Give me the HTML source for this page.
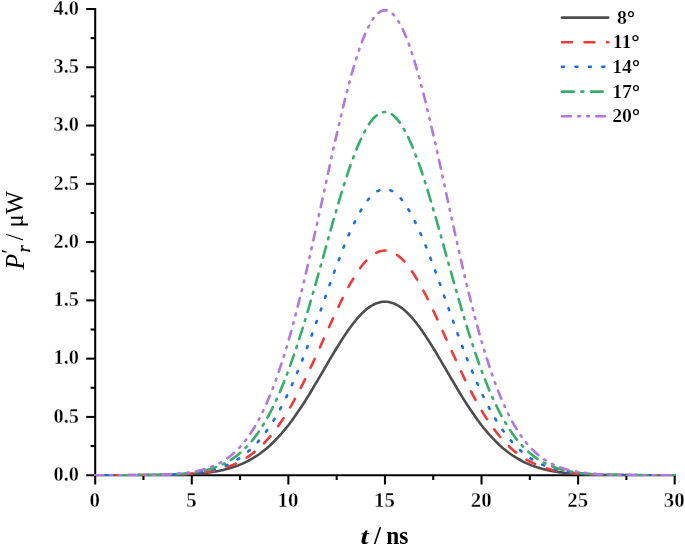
<!DOCTYPE html>
<html><head><meta charset="utf-8"><title>chart</title>
<style>html,body{margin:0;padding:0;background:#fff}svg{display:block}text{font-family:"Liberation Serif",serif;fill:#000}</style></head><body>
<svg width="685" height="545" viewBox="0 0 685 545">
<rect width="685" height="545" fill="#fff"/>
<g stroke="#000" stroke-width="2.05" fill="none">
<path d="M95.20 7.97 V484.50"/>
<path d="M86.20 475.20 H675.73"/>
<path d="M90.60 446.06 H95.20"/>
<path d="M86.20 416.93 H95.20"/>
<path d="M90.60 387.79 H95.20"/>
<path d="M86.20 358.65 H95.20"/>
<path d="M90.60 329.51 H95.20"/>
<path d="M86.20 300.38 H95.20"/>
<path d="M90.60 271.24 H95.20"/>
<path d="M86.20 242.10 H95.20"/>
<path d="M90.60 212.96 H95.20"/>
<path d="M86.20 183.82 H95.20"/>
<path d="M90.60 154.69 H95.20"/>
<path d="M86.20 125.55 H95.20"/>
<path d="M90.60 96.41 H95.20"/>
<path d="M86.20 67.27 H95.20"/>
<path d="M90.60 38.14 H95.20"/>
<path d="M86.20 9.00 H95.20"/>
<path d="M143.49 475.20 V480.00"/>
<path d="M191.78 475.20 V484.50"/>
<path d="M240.07 475.20 V480.00"/>
<path d="M288.37 475.20 V484.50"/>
<path d="M336.66 475.20 V480.00"/>
<path d="M384.95 475.20 V484.50"/>
<path d="M433.24 475.20 V480.00"/>
<path d="M481.53 475.20 V484.50"/>
<path d="M529.83 475.20 V480.00"/>
<path d="M578.12 475.20 V484.50"/>
<path d="M626.41 475.20 V480.00"/>
<path d="M674.70 475.20 V484.50"/>
</g>
<clipPath id="cp"><rect x="90" y="0" width="590" height="476.05"/></clipPath><g clip-path="url(#cp)">
<polyline points="95.2,475.2 97.6,475.2 100.0,475.2 102.4,475.2 104.9,475.2 107.3,475.2 109.7,475.2 112.1,475.2 114.5,475.2 116.9,475.2 119.3,475.2 121.8,475.2 124.2,475.2 126.6,475.2 129.0,475.2 131.4,475.2 133.8,475.2 136.2,475.2 138.7,475.1 141.1,475.1 143.5,475.1 145.9,475.1 148.3,475.1 150.7,475.1 153.2,475.1 155.6,475.0 158.0,475.0 160.4,475.0 162.8,475.0 165.2,474.9 167.6,474.9 170.1,474.8 172.5,474.8 174.9,474.7 177.3,474.6 179.7,474.6 182.1,474.5 184.5,474.4 187.0,474.3 189.4,474.1 191.8,474.0 194.2,473.8 196.6,473.7 199.0,473.5 201.4,473.3 203.9,473.0 206.3,472.7 208.7,472.4 211.1,472.1 213.5,471.8 215.9,471.4 218.3,470.9 220.8,470.4 223.2,469.9 225.6,469.3 228.0,468.7 230.4,468.0 232.8,467.3 235.2,466.5 237.7,465.6 240.1,464.6 242.5,463.6 244.9,462.5 247.3,461.3 249.7,460.0 252.1,458.7 254.6,457.2 257.0,455.7 259.4,454.0 261.8,452.2 264.2,450.3 266.6,448.4 269.1,446.3 271.5,444.0 273.9,441.7 276.3,439.2 278.7,436.7 281.1,434.0 283.5,431.2 286.0,428.2 288.4,425.2 290.8,422.0 293.2,418.7 295.6,415.3 298.0,411.8 300.4,408.2 302.9,404.5 305.3,400.8 307.7,396.9 310.1,393.0 312.5,389.0 314.9,384.9 317.3,380.9 319.8,376.7 322.2,372.6 324.6,368.4 327.0,364.3 329.4,360.2 331.8,356.1 334.2,352.0 336.7,348.0 339.1,344.1 341.5,340.3 343.9,336.6 346.3,333.0 348.7,329.5 351.1,326.2 353.6,323.0 356.0,320.0 358.4,317.2 360.8,314.6 363.2,312.2 365.6,310.1 368.0,308.1 370.5,306.4 372.9,305.0 375.3,303.8 377.7,302.9 380.1,302.2 382.5,301.8 384.9,301.7 387.4,301.8 389.8,302.2 392.2,302.9 394.6,303.8 397.0,305.0 399.4,306.4 401.9,308.1 404.3,310.1 406.7,312.2 409.1,314.6 411.5,317.2 413.9,320.0 416.3,323.0 418.8,326.2 421.2,329.5 423.6,333.0 426.0,336.6 428.4,340.3 430.8,344.1 433.2,348.0 435.7,352.0 438.1,356.1 440.5,360.2 442.9,364.3 445.3,368.4 447.7,372.6 450.1,376.7 452.6,380.9 455.0,384.9 457.4,389.0 459.8,393.0 462.2,396.9 464.6,400.8 467.0,404.5 469.5,408.2 471.9,411.8 474.3,415.3 476.7,418.7 479.1,422.0 481.5,425.2 483.9,428.2 486.4,431.2 488.8,434.0 491.2,436.7 493.6,439.2 496.0,441.7 498.4,444.0 500.8,446.3 503.3,448.4 505.7,450.3 508.1,452.2 510.5,454.0 512.9,455.7 515.3,457.2 517.8,458.7 520.2,460.0 522.6,461.3 525.0,462.5 527.4,463.6 529.8,464.6 532.2,465.6 534.7,466.5 537.1,467.3 539.5,468.0 541.9,468.7 544.3,469.3 546.7,469.9 549.1,470.4 551.6,470.9 554.0,471.4 556.4,471.8 558.8,472.1 561.2,472.4 563.6,472.7 566.0,473.0 568.5,473.3 570.9,473.5 573.3,473.7 575.7,473.8 578.1,474.0 580.5,474.1 582.9,474.3 585.4,474.4 587.8,474.5 590.2,474.6 592.6,474.6 595.0,474.7 597.4,474.8 599.8,474.8 602.3,474.9 604.7,474.9 607.1,475.0 609.5,475.0 611.9,475.0 614.3,475.0 616.8,475.1 619.2,475.1 621.6,475.1 624.0,475.1 626.4,475.1 628.8,475.1 631.2,475.1 633.7,475.2 636.1,475.2 638.5,475.2 640.9,475.2 643.3,475.2 645.7,475.2 648.1,475.2 650.6,475.2 653.0,475.2 655.4,475.2 657.8,475.2 660.2,475.2 662.6,475.2 665.0,475.2 667.5,475.2 669.9,475.2 672.3,475.2 674.7,475.2" fill="none" stroke="#4d4d4d" stroke-width="2.6" stroke-linecap="round" stroke-linejoin="round"/>
<polyline points="95.2,475.2 97.6,475.2 100.0,475.2 102.4,475.2 104.9,475.2 107.3,475.2 109.7,475.2 112.1,475.2 114.5,475.2 116.9,475.2 119.3,475.2 121.8,475.2 124.2,475.2 126.6,475.2 129.0,475.2 131.4,475.2 133.8,475.1 136.2,475.1 138.7,475.1 141.1,475.1 143.5,475.1 145.9,475.1 148.3,475.1 150.7,475.1 153.2,475.0 155.6,475.0 158.0,475.0 160.4,474.9 162.8,474.9 165.2,474.8 167.6,474.8 170.1,474.7 172.5,474.7 174.9,474.6 177.3,474.5 179.7,474.4 182.1,474.3 184.5,474.1 187.0,474.0 189.4,473.8 191.8,473.6 194.2,473.4 196.6,473.2 199.0,473.0 201.4,472.7 203.9,472.4 206.3,472.0 208.7,471.6 211.1,471.2 213.5,470.7 215.9,470.2 218.3,469.7 220.8,469.0 223.2,468.3 225.6,467.6 228.0,466.8 230.4,465.9 232.8,464.9 235.2,463.9 237.7,462.7 240.1,461.5 242.5,460.2 244.9,458.8 247.3,457.2 249.7,455.6 252.1,453.8 254.6,451.9 257.0,449.9 259.4,447.7 261.8,445.4 264.2,443.0 266.6,440.4 269.1,437.7 271.5,434.8 273.9,431.8 276.3,428.6 278.7,425.3 281.1,421.8 283.5,418.2 286.0,414.4 288.4,410.4 290.8,406.3 293.2,402.1 295.6,397.7 298.0,393.1 300.4,388.5 302.9,383.7 305.3,378.8 307.7,373.8 310.1,368.7 312.5,363.6 314.9,358.3 317.3,353.0 319.8,347.7 322.2,342.3 324.6,337.0 327.0,331.6 329.4,326.3 331.8,321.0 334.2,315.7 336.7,310.5 339.1,305.5 341.5,300.5 343.9,295.7 346.3,291.0 348.7,286.5 351.1,282.2 353.6,278.2 356.0,274.3 358.4,270.7 360.8,267.3 363.2,264.2 365.6,261.4 368.0,258.9 370.5,256.7 372.9,254.8 375.3,253.3 377.7,252.1 380.1,251.2 382.5,250.7 384.9,250.5 387.4,250.7 389.8,251.2 392.2,252.1 394.6,253.3 397.0,254.8 399.4,256.7 401.9,258.9 404.3,261.4 406.7,264.2 409.1,267.3 411.5,270.7 413.9,274.3 416.3,278.2 418.8,282.2 421.2,286.5 423.6,291.0 426.0,295.7 428.4,300.5 430.8,305.5 433.2,310.5 435.7,315.7 438.1,321.0 440.5,326.3 442.9,331.6 445.3,337.0 447.7,342.3 450.1,347.7 452.6,353.0 455.0,358.3 457.4,363.6 459.8,368.7 462.2,373.8 464.6,378.8 467.0,383.7 469.5,388.5 471.9,393.1 474.3,397.7 476.7,402.1 479.1,406.3 481.5,410.4 483.9,414.4 486.4,418.2 488.8,421.8 491.2,425.3 493.6,428.6 496.0,431.8 498.4,434.8 500.8,437.7 503.3,440.4 505.7,443.0 508.1,445.4 510.5,447.7 512.9,449.9 515.3,451.9 517.8,453.8 520.2,455.6 522.6,457.2 525.0,458.8 527.4,460.2 529.8,461.5 532.2,462.7 534.7,463.9 537.1,464.9 539.5,465.9 541.9,466.8 544.3,467.6 546.7,468.3 549.1,469.0 551.6,469.7 554.0,470.2 556.4,470.7 558.8,471.2 561.2,471.6 563.6,472.0 566.0,472.4 568.5,472.7 570.9,473.0 573.3,473.2 575.7,473.4 578.1,473.6 580.5,473.8 582.9,474.0 585.4,474.1 587.8,474.3 590.2,474.4 592.6,474.5 595.0,474.6 597.4,474.7 599.8,474.7 602.3,474.8 604.7,474.8 607.1,474.9 609.5,474.9 611.9,475.0 614.3,475.0 616.8,475.0 619.2,475.1 621.6,475.1 624.0,475.1 626.4,475.1 628.8,475.1 631.2,475.1 633.7,475.1 636.1,475.1 638.5,475.2 640.9,475.2 643.3,475.2 645.7,475.2 648.1,475.2 650.6,475.2 653.0,475.2 655.4,475.2 657.8,475.2 660.2,475.2 662.6,475.2 665.0,475.2 667.5,475.2 669.9,475.2 672.3,475.2 674.7,475.2" fill="none" stroke="#ee3a3a" stroke-width="2.6" stroke-linecap="round" stroke-linejoin="round" stroke-dasharray="9.7 12.6" stroke-dashoffset="1.5"/>
<polyline points="95.2,475.2 97.6,475.2 100.0,475.2 102.4,475.2 104.9,475.2 107.3,475.2 109.7,475.2 112.1,475.2 114.5,475.2 116.9,475.2 119.3,475.2 121.8,475.2 124.2,475.2 126.6,475.2 129.0,475.2 131.4,475.1 133.8,475.1 136.2,475.1 138.7,475.1 141.1,475.1 143.5,475.1 145.9,475.1 148.3,475.0 150.7,475.0 153.2,475.0 155.6,474.9 158.0,474.9 160.4,474.9 162.8,474.8 165.2,474.7 167.6,474.7 170.1,474.6 172.5,474.5 174.9,474.4 177.3,474.3 179.7,474.2 182.1,474.0 184.5,473.8 187.0,473.7 189.4,473.5 191.8,473.2 194.2,473.0 196.6,472.7 199.0,472.3 201.4,472.0 203.9,471.6 206.3,471.1 208.7,470.7 211.1,470.1 213.5,469.5 215.9,468.9 218.3,468.1 220.8,467.3 223.2,466.5 225.6,465.5 228.0,464.5 230.4,463.3 232.8,462.1 235.2,460.8 237.7,459.3 240.1,457.8 242.5,456.1 244.9,454.3 247.3,452.3 249.7,450.2 252.1,448.0 254.6,445.5 257.0,443.0 259.4,440.2 261.8,437.3 264.2,434.2 266.6,430.9 269.1,427.5 271.5,423.8 273.9,420.0 276.3,415.9 278.7,411.7 281.1,407.2 283.5,402.6 286.0,397.7 288.4,392.7 290.8,387.5 293.2,382.1 295.6,376.5 298.0,370.7 300.4,364.8 302.9,358.7 305.3,352.5 307.7,346.1 310.1,339.6 312.5,333.1 314.9,326.4 317.3,319.6 319.8,312.9 322.2,306.0 324.6,299.2 327.0,292.3 329.4,285.5 331.8,278.8 334.2,272.1 336.7,265.5 339.1,259.1 341.5,252.8 343.9,246.6 346.3,240.7 348.7,235.0 351.1,229.5 353.6,224.3 356.0,219.4 358.4,214.8 360.8,210.5 363.2,206.5 365.6,203.0 368.0,199.8 370.5,197.0 372.9,194.6 375.3,192.6 377.7,191.1 380.1,190.0 382.5,189.3 384.9,189.1 387.4,189.3 389.8,190.0 392.2,191.1 394.6,192.6 397.0,194.6 399.4,197.0 401.9,199.8 404.3,203.0 406.7,206.5 409.1,210.5 411.5,214.8 413.9,219.4 416.3,224.3 418.8,229.5 421.2,235.0 423.6,240.7 426.0,246.6 428.4,252.8 430.8,259.1 433.2,265.5 435.7,272.1 438.1,278.8 440.5,285.5 442.9,292.3 445.3,299.2 447.7,306.0 450.1,312.9 452.6,319.6 455.0,326.4 457.4,333.1 459.8,339.6 462.2,346.1 464.6,352.5 467.0,358.7 469.5,364.8 471.9,370.7 474.3,376.5 476.7,382.1 479.1,387.5 481.5,392.7 483.9,397.7 486.4,402.6 488.8,407.2 491.2,411.7 493.6,415.9 496.0,420.0 498.4,423.8 500.8,427.5 503.3,430.9 505.7,434.2 508.1,437.3 510.5,440.2 512.9,443.0 515.3,445.5 517.8,448.0 520.2,450.2 522.6,452.3 525.0,454.3 527.4,456.1 529.8,457.8 532.2,459.3 534.7,460.8 537.1,462.1 539.5,463.3 541.9,464.5 544.3,465.5 546.7,466.5 549.1,467.3 551.6,468.1 554.0,468.9 556.4,469.5 558.8,470.1 561.2,470.7 563.6,471.1 566.0,471.6 568.5,472.0 570.9,472.3 573.3,472.7 575.7,473.0 578.1,473.2 580.5,473.5 582.9,473.7 585.4,473.8 587.8,474.0 590.2,474.2 592.6,474.3 595.0,474.4 597.4,474.5 599.8,474.6 602.3,474.7 604.7,474.7 607.1,474.8 609.5,474.9 611.9,474.9 614.3,474.9 616.8,475.0 619.2,475.0 621.6,475.0 624.0,475.1 626.4,475.1 628.8,475.1 631.2,475.1 633.7,475.1 636.1,475.1 638.5,475.1 640.9,475.2 643.3,475.2 645.7,475.2 648.1,475.2 650.6,475.2 653.0,475.2 655.4,475.2 657.8,475.2 660.2,475.2 662.6,475.2 665.0,475.2 667.5,475.2 669.9,475.2 672.3,475.2 674.7,475.2" fill="none" stroke="#1a6fdf" stroke-width="2.6" stroke-linecap="round" stroke-linejoin="round" stroke-dasharray="2.0 11.354" stroke-dashoffset="2.1"/>
<polyline points="95.2,475.2 97.6,475.2 100.0,475.2 102.4,475.2 104.9,475.2 107.3,475.2 109.7,475.2 112.1,475.2 114.5,475.2 116.9,475.2 119.3,475.2 121.8,475.2 124.2,475.2 126.6,475.2 129.0,475.1 131.4,475.1 133.8,475.1 136.2,475.1 138.7,475.1 141.1,475.1 143.5,475.0 145.9,475.0 148.3,475.0 150.7,475.0 153.2,474.9 155.6,474.9 158.0,474.8 160.4,474.8 162.8,474.7 165.2,474.6 167.6,474.5 170.1,474.4 172.5,474.3 174.9,474.2 177.3,474.0 179.7,473.9 182.1,473.7 184.5,473.5 187.0,473.2 189.4,473.0 191.8,472.7 194.2,472.4 196.6,472.0 199.0,471.6 201.4,471.1 203.9,470.6 206.3,470.1 208.7,469.4 211.1,468.7 213.5,468.0 215.9,467.1 218.3,466.2 220.8,465.2 223.2,464.1 225.6,462.9 228.0,461.6 230.4,460.2 232.8,458.6 235.2,456.9 237.7,455.1 240.1,453.1 242.5,450.9 244.9,448.6 247.3,446.1 249.7,443.5 252.1,440.6 254.6,437.6 257.0,434.3 259.4,430.8 261.8,427.1 264.2,423.2 266.6,419.0 269.1,414.6 271.5,410.0 273.9,405.1 276.3,400.0 278.7,394.6 281.1,388.9 283.5,383.0 286.0,376.9 288.4,370.5 290.8,363.9 293.2,357.0 295.6,349.9 298.0,342.6 300.4,335.1 302.9,327.3 305.3,319.4 307.7,311.4 310.1,303.1 312.5,294.8 314.9,286.3 317.3,277.8 319.8,269.1 322.2,260.5 324.6,251.8 327.0,243.1 329.4,234.5 331.8,225.9 334.2,217.4 336.7,209.1 339.1,200.9 341.5,192.9 343.9,185.1 346.3,177.6 348.7,170.3 351.1,163.4 353.6,156.7 356.0,150.5 358.4,144.6 360.8,139.2 363.2,134.2 365.6,129.7 368.0,125.6 370.5,122.1 372.9,119.0 375.3,116.5 377.7,114.6 380.1,113.2 382.5,112.3 384.9,112.0 387.4,112.3 389.8,113.2 392.2,114.6 394.6,116.5 397.0,119.0 399.4,122.1 401.9,125.6 404.3,129.7 406.7,134.2 409.1,139.2 411.5,144.6 413.9,150.5 416.3,156.7 418.8,163.4 421.2,170.3 423.6,177.6 426.0,185.1 428.4,192.9 430.8,200.9 433.2,209.1 435.7,217.4 438.1,225.9 440.5,234.5 442.9,243.1 445.3,251.8 447.7,260.5 450.1,269.1 452.6,277.8 455.0,286.3 457.4,294.8 459.8,303.1 462.2,311.4 464.6,319.4 467.0,327.3 469.5,335.1 471.9,342.6 474.3,349.9 476.7,357.0 479.1,363.9 481.5,370.5 483.9,376.9 486.4,383.0 488.8,388.9 491.2,394.6 493.6,400.0 496.0,405.1 498.4,410.0 500.8,414.6 503.3,419.0 505.7,423.2 508.1,427.1 510.5,430.8 512.9,434.3 515.3,437.6 517.8,440.6 520.2,443.5 522.6,446.1 525.0,448.6 527.4,450.9 529.8,453.1 532.2,455.1 534.7,456.9 537.1,458.6 539.5,460.2 541.9,461.6 544.3,462.9 546.7,464.1 549.1,465.2 551.6,466.2 554.0,467.1 556.4,468.0 558.8,468.7 561.2,469.4 563.6,470.1 566.0,470.6 568.5,471.1 570.9,471.6 573.3,472.0 575.7,472.4 578.1,472.7 580.5,473.0 582.9,473.2 585.4,473.5 587.8,473.7 590.2,473.9 592.6,474.0 595.0,474.2 597.4,474.3 599.8,474.4 602.3,474.5 604.7,474.6 607.1,474.7 609.5,474.8 611.9,474.8 614.3,474.9 616.8,474.9 619.2,475.0 621.6,475.0 624.0,475.0 626.4,475.0 628.8,475.1 631.2,475.1 633.7,475.1 636.1,475.1 638.5,475.1 640.9,475.1 643.3,475.2 645.7,475.2 648.1,475.2 650.6,475.2 653.0,475.2 655.4,475.2 657.8,475.2 660.2,475.2 662.6,475.2 665.0,475.2 667.5,475.2 669.9,475.2 672.3,475.2 674.7,475.2" fill="none" stroke="#37ad6b" stroke-width="2.6" stroke-linecap="round" stroke-linejoin="round" stroke-dasharray="11.8 7.24 2.0 7.24" stroke-dashoffset="3.3"/>
<polyline points="95.2,475.2 97.6,475.2 100.0,475.2 102.4,475.2 104.9,475.2 107.3,475.2 109.7,475.2 112.1,475.2 114.5,475.2 116.9,475.2 119.3,475.2 121.8,475.2 124.2,475.1 126.6,475.1 129.0,475.1 131.4,475.1 133.8,475.1 136.2,475.1 138.7,475.1 141.1,475.0 143.5,475.0 145.9,475.0 148.3,474.9 150.7,474.9 153.2,474.8 155.6,474.8 158.0,474.7 160.4,474.6 162.8,474.6 165.2,474.5 167.6,474.3 170.1,474.2 172.5,474.1 174.9,473.9 177.3,473.7 179.7,473.5 182.1,473.3 184.5,473.0 187.0,472.7 189.4,472.4 191.8,472.0 194.2,471.6 196.6,471.1 199.0,470.6 201.4,470.0 203.9,469.3 206.3,468.6 208.7,467.8 211.1,466.9 213.5,466.0 215.9,464.9 218.3,463.7 220.8,462.4 223.2,461.0 225.6,459.5 228.0,457.8 230.4,455.9 232.8,453.9 235.2,451.8 237.7,449.4 240.1,446.9 242.5,444.1 244.9,441.2 247.3,438.0 249.7,434.6 252.1,430.9 254.6,427.0 257.0,422.8 259.4,418.4 261.8,413.6 264.2,408.6 266.6,403.3 269.1,397.6 271.5,391.7 273.9,385.4 276.3,378.9 278.7,372.0 281.1,364.7 283.5,357.2 286.0,349.3 288.4,341.1 290.8,332.6 293.2,323.8 295.6,314.8 298.0,305.4 300.4,295.8 302.9,285.9 305.3,275.8 307.7,265.4 310.1,254.9 312.5,244.2 314.9,233.3 317.3,222.4 319.8,211.3 322.2,200.2 324.6,189.1 327.0,178.0 329.4,167.0 331.8,156.0 334.2,145.1 336.7,134.4 339.1,124.0 341.5,113.7 343.9,103.7 346.3,94.1 348.7,84.8 351.1,75.9 353.6,67.4 356.0,59.4 358.4,51.9 360.8,44.9 363.2,38.5 365.6,32.7 368.0,27.5 370.5,23.0 372.9,19.1 375.3,15.9 377.7,13.4 380.1,11.6 382.5,10.5 384.9,10.2 387.4,10.5 389.8,11.6 392.2,13.4 394.6,15.9 397.0,19.1 399.4,23.0 401.9,27.5 404.3,32.7 406.7,38.5 409.1,44.9 411.5,51.9 413.9,59.4 416.3,67.4 418.8,75.9 421.2,84.8 423.6,94.1 426.0,103.7 428.4,113.7 430.8,124.0 433.2,134.4 435.7,145.1 438.1,156.0 440.5,167.0 442.9,178.0 445.3,189.1 447.7,200.2 450.1,211.3 452.6,222.4 455.0,233.3 457.4,244.2 459.8,254.9 462.2,265.4 464.6,275.8 467.0,285.9 469.5,295.8 471.9,305.4 474.3,314.8 476.7,323.8 479.1,332.6 481.5,341.1 483.9,349.3 486.4,357.2 488.8,364.7 491.2,372.0 493.6,378.9 496.0,385.4 498.4,391.7 500.8,397.6 503.3,403.3 505.7,408.6 508.1,413.6 510.5,418.4 512.9,422.8 515.3,427.0 517.8,430.9 520.2,434.6 522.6,438.0 525.0,441.2 527.4,444.1 529.8,446.9 532.2,449.4 534.7,451.8 537.1,453.9 539.5,455.9 541.9,457.8 544.3,459.5 546.7,461.0 549.1,462.4 551.6,463.7 554.0,464.9 556.4,466.0 558.8,466.9 561.2,467.8 563.6,468.6 566.0,469.3 568.5,470.0 570.9,470.6 573.3,471.1 575.7,471.6 578.1,472.0 580.5,472.4 582.9,472.7 585.4,473.0 587.8,473.3 590.2,473.5 592.6,473.7 595.0,473.9 597.4,474.1 599.8,474.2 602.3,474.3 604.7,474.5 607.1,474.6 609.5,474.6 611.9,474.7 614.3,474.8 616.8,474.8 619.2,474.9 621.6,474.9 624.0,475.0 626.4,475.0 628.8,475.0 631.2,475.1 633.7,475.1 636.1,475.1 638.5,475.1 640.9,475.1 643.3,475.1 645.7,475.1 648.1,475.2 650.6,475.2 653.0,475.2 655.4,475.2 657.8,475.2 660.2,475.2 662.6,475.2 665.0,475.2 667.5,475.2 669.9,475.2 672.3,475.2 674.7,475.2" fill="none" stroke="#b177de" stroke-width="2.6" stroke-linecap="round" stroke-linejoin="round" stroke-dasharray="8.8 7.213 1.8 7.213 1.8 7.213" stroke-dashoffset="1.1"/>
</g>
<g font-weight="bold" font-size="20.3px" stroke="#fff" stroke-width="0.35">
<text x="78.9" y="481.00" text-anchor="end">0.0</text>
<text x="78.9" y="422.73" text-anchor="end">0.5</text>
<text x="78.9" y="364.45" text-anchor="end">1.0</text>
<text x="78.9" y="306.18" text-anchor="end">1.5</text>
<text x="78.9" y="247.90" text-anchor="end">2.0</text>
<text x="78.9" y="189.62" text-anchor="end">2.5</text>
<text x="78.9" y="131.35" text-anchor="end">3.0</text>
<text x="78.9" y="73.07" text-anchor="end">3.5</text>
<text x="78.9" y="14.80" text-anchor="end">4.0</text>
<text transform="translate(94.80,506.5) scale(1.03,1)" text-anchor="middle">0</text>
<text transform="translate(191.38,506.5) scale(1.03,1)" text-anchor="middle">5</text>
<text transform="translate(287.97,506.5) scale(1.03,1)" text-anchor="middle">10</text>
<text transform="translate(384.55,506.5) scale(1.03,1)" text-anchor="middle">15</text>
<text transform="translate(481.13,506.5) scale(1.03,1)" text-anchor="middle">20</text>
<text transform="translate(577.72,506.5) scale(1.03,1)" text-anchor="middle">25</text>
<text transform="translate(674.30,506.5) scale(1.03,1)" text-anchor="middle">30</text>
</g>
<g font-weight="bold">
<text transform="translate(360.4,543.7) scale(1.22,1)" font-size="23.9px" font-style="italic">t</text>
<text x="373.9" y="544.1" font-size="25.2px">/</text>
<text transform="translate(386.2,543.6) scale(0.965,1)" font-size="24.2px">ns</text>
</g>
<g transform="rotate(-90)">
<text transform="translate(-269.4,23.7) scale(0.93,1)" font-size="27.5px" font-style="italic">P</text>
<text x="-253.4" y="15.8" font-size="20px">′</text>
<text x="-252.2" y="30" font-size="18px" font-style="italic" stroke="#000" stroke-width="0.35">r</text>
<text x="-191.2" y="22.7" font-size="24.5px" text-anchor="end">/ μW</text>
</g>
<path d="M562 17.60 H608.2" fill="none" stroke="#4d4d4d" stroke-width="2.6" stroke-linecap="round"/>
<text x="626" y="23.60" text-anchor="middle" font-size="19.8px" font-weight="bold" stroke="#fff" stroke-width="0.22">8<tspan stroke="#000" stroke-width="0.25">°</tspan></text>
<path d="M562 42.30 H608.2" fill="none" stroke="#ee3a3a" stroke-width="2.6" stroke-linecap="round" stroke-dasharray="9.9 12.6"/>
<text x="626" y="48.30" text-anchor="middle" font-size="19.8px" font-weight="bold" stroke="#fff" stroke-width="0.22">11<tspan stroke="#000" stroke-width="0.25">°</tspan></text>
<path d="M562 66.80 H608.2" fill="none" stroke="#1a6fdf" stroke-width="2.6" stroke-linecap="round" stroke-dasharray="2.0 11.45"/>
<text x="626" y="72.80" text-anchor="middle" font-size="19.8px" font-weight="bold" stroke="#fff" stroke-width="0.22">14<tspan stroke="#000" stroke-width="0.25">°</tspan></text>
<path d="M562 91.60 H608.2" fill="none" stroke="#37ad6b" stroke-width="2.6" stroke-linecap="round" stroke-dasharray="11.8 7.55 2.0 7.55"/>
<text x="626" y="97.60" text-anchor="middle" font-size="19.8px" font-weight="bold" stroke="#fff" stroke-width="0.22">17<tspan stroke="#000" stroke-width="0.25">°</tspan></text>
<path d="M562 116.20 H608.2" fill="none" stroke="#b177de" stroke-width="2.6" stroke-linecap="round" stroke-dasharray="8.8 7.3 1.8 7.3 1.8 7.3"/>
<text x="626" y="122.20" text-anchor="middle" font-size="19.8px" font-weight="bold" stroke="#fff" stroke-width="0.22">20<tspan stroke="#000" stroke-width="0.25">°</tspan></text>
</svg></body></html>
